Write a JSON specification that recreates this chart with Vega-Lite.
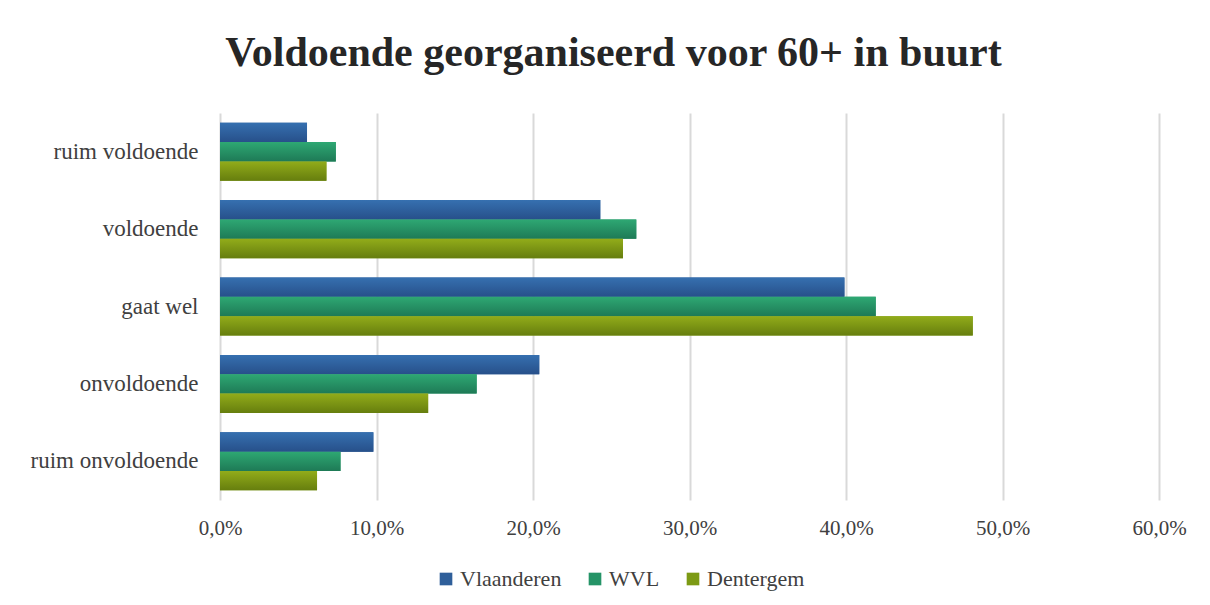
{
  "$schema": "https://vega.github.io/schema/vega-lite/v6.json",
  "autosize": {"type": "none"},
  "width": 939,
  "height": 387,
  "padding": {"left": 220, "top": 113, "right": 51, "bottom": 105},
  "background": "white",
  "title": {
    "text": "Voldoende georganiseerd voor 60+ in buurt",
    "font": "Liberation Serif",
    "fontSize": 42,
    "fontWeight": "bold",
    "color": "#262626",
    "anchor": "middle",
    "dx": -76,
    "offset": 38
  },
  "data": {
    "values": [
      {"cat": "ruim voldoende", "reeks": "Vlaanderen", "v": 0.0556},
      {"cat": "ruim voldoende", "reeks": "WVL", "v": 0.074},
      {"cat": "ruim voldoende", "reeks": "Dentergem", "v": 0.068},
      {"cat": "voldoende", "reeks": "Vlaanderen", "v": 0.243},
      {"cat": "voldoende", "reeks": "WVL", "v": 0.266},
      {"cat": "voldoende", "reeks": "Dentergem", "v": 0.2575},
      {"cat": "gaat wel", "reeks": "Vlaanderen", "v": 0.399},
      {"cat": "gaat wel", "reeks": "WVL", "v": 0.419},
      {"cat": "gaat wel", "reeks": "Dentergem", "v": 0.481},
      {"cat": "onvoldoende", "reeks": "Vlaanderen", "v": 0.204},
      {"cat": "onvoldoende", "reeks": "WVL", "v": 0.164},
      {"cat": "onvoldoende", "reeks": "Dentergem", "v": 0.133},
      {"cat": "ruim onvoldoende", "reeks": "Vlaanderen", "v": 0.098},
      {"cat": "ruim onvoldoende", "reeks": "WVL", "v": 0.077},
      {"cat": "ruim onvoldoende", "reeks": "Dentergem", "v": 0.062}
    ]
  },
  "encoding": {
    "y": {
      "field": "cat",
      "type": "nominal",
      "sort": ["ruim voldoende", "voldoende", "gaat wel", "onvoldoende", "ruim onvoldoende"],
      "scale": {"paddingInner": 0.25, "paddingOuter": 0.125},
      "axis": {
        "title": null,
        "domain": false,
        "ticks": false,
        "labelFont": "Liberation Serif",
        "labelFontSize": 23,
        "labelColor": "#404040",
        "labelPadding": 22
      }
    },
    "yOffset": {
      "field": "reeks",
      "type": "nominal",
      "sort": ["Vlaanderen", "WVL", "Dentergem"],
      "scale": {"domain": ["Vlaanderen", "WVL", "Dentergem"], "paddingInner": 0, "paddingOuter": 0}
    },
    "x": {
      "field": "v",
      "type": "quantitative",
      "scale": {"domain": [0, 0.6], "nice": false},
      "axis": {
        "title": null,
        "values": [0, 0.1, 0.2, 0.3, 0.4, 0.5, 0.6],
        "labelExpr": "replace(format(datum.value, '.1%'), '.', ',')",
        "domain": false,
        "ticks": false,
        "grid": true,
        "gridColor": "#D9D9D9",
        "gridWidth": 2,
        "labelFont": "Liberation Serif",
        "labelFontSize": 21,
        "labelColor": "#404040",
        "labelPadding": 17,
        "labelFlush": false
      }
    }
  },
  "layer": [
    {
      "mark": {"type": "bar"},
      "encoding": {
        "color": {
          "field": "reeks",
          "type": "nominal",
          "sort": ["Vlaanderen", "WVL", "Dentergem"],
          "scale": {"domain": ["Vlaanderen", "WVL", "Dentergem"], "range": ["#2F5F9A", "#259467", "#7C9A14"]},
          "legend": {
            "title": null,
            "orient": "none",
            "direction": "horizontal",
            "legendX": 215,
            "legendY": 455,
            "symbolType": "square",
            "symbolSize": 160,
            "symbolStrokeWidth": 0,
            "labelFont": "Liberation Serif",
            "labelFontSize": 22,
            "labelColor": "#404040",
            "columnPadding": 22,
            "labelOffset": 3
          }
        }
      }
    },
    {
      "transform": [{"filter": "datum.reeks === 'Vlaanderen'"}],
      "mark": {"type": "bar", "color": {"gradient": "linear", "x1": 0, "y1": 0, "x2": 0, "y2": 1, "stops": [{"offset": 0, "color": "#3670B0"}, {"offset": 1, "color": "#27508A"}]}}
    },
    {
      "transform": [{"filter": "datum.reeks === 'WVL'"}],
      "mark": {"type": "bar", "color": {"gradient": "linear", "x1": 0, "y1": 0, "x2": 0, "y2": 1, "stops": [{"offset": 0, "color": "#2EA873"}, {"offset": 1, "color": "#1E7A56"}]}}
    },
    {
      "transform": [{"filter": "datum.reeks === 'Dentergem'"}],
      "mark": {"type": "bar", "color": {"gradient": "linear", "x1": 0, "y1": 0, "x2": 0, "y2": 1, "stops": [{"offset": 0, "color": "#92AC1A"}, {"offset": 1, "color": "#667E0E"}]}}
    }
  ],
  "config": {
    "font": "Liberation Serif",
    "view": {"stroke": null},
    "legend": {"labelFont": "Liberation Serif"}
  }
}
